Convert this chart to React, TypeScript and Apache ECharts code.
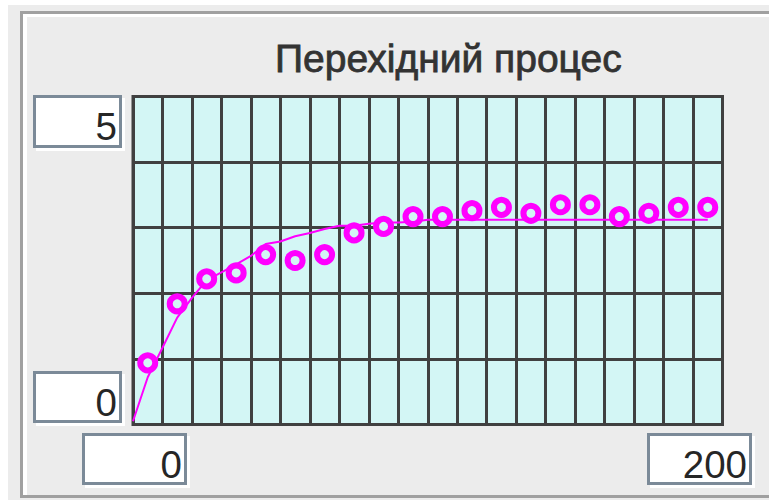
import React, { useEffect, useRef } from "react";
import * as echarts from "echarts";

// Axis ranges shown in the edit boxes
const xRange = [0, 200];
const yRange = [0, 5];
const xStep = 10;
const yStep = 1;

// Model curve (t, value)
const curveT = [0, 5, 10, 15, 20, 25, 30, 35, 40, 45, 50, 55, 60, 65, 70, 75, 80, 85, 90, 95, 100, 110, 120, 130, 140, 150, 160, 170, 180, 190, 195];
const curveV = [0.05, 0.72, 1.17, 1.63, 1.93, 2.2, 2.32, 2.44, 2.57, 2.75, 2.79, 2.87, 2.92, 2.98, 3.03, 3.03, 3.06, 3.08, 3.08, 3.09, 3.12, 3.12, 3.12, 3.12, 3.12, 3.12, 3.12, 3.12, 3.12, 3.12, 3.12];

// Measured samples (t, value)
const sampleT = [5, 15, 25, 35, 45, 55, 65, 75, 85, 95, 105, 115, 125, 135, 145, 155, 165, 175, 185, 195];
const sampleV = [0.94, 1.84, 2.22, 2.31, 2.59, 2.5, 2.59, 2.92, 3.02, 3.17, 3.17, 3.26, 3.31, 3.22, 3.35, 3.35, 3.17, 3.22, 3.31, 3.31];

const titleText = "Перехідний процес";

const FONT = '"Liberation Sans", Arial, sans-serif';
const PLOT_BG = "#d3f6f5";
const GRID_LINE = "#404040";
const MAGENTA = "#ff00ff";
const EDGE = "#7b8a98";

function editBox(x: number, y: number, w: number, h: number, label: string, tx: number, ty: number) {
  return [
    { type: "rect", shape: { x: x + 3, y: y + 3, width: w, height: h }, style: { fill: "#ffffff" }, silent: true },
    { type: "rect", shape: { x, y, width: w, height: h }, style: { fill: EDGE }, silent: true },
    { type: "rect", shape: { x: x + 3, y: y + 3, width: w - 6, height: h - 6 }, style: { fill: "#ffffff" }, silent: true },
    {
      type: "text",
      x: tx,
      y: ty,
      silent: true,
      style: { text: label, fill: "#262626", font: `38.5px ${FONT}`, align: "right", verticalAlign: "middle" },
    },
  ];
}

export default function App() {
  const ref = useRef<HTMLDivElement>(null);

  useEffect(() => {
    if (!ref.current) return;
    const chart = echarts.init(ref.current, undefined, { renderer: "svg" });

    const curve = curveT.map((t, i) => [t, curveV[i]]);
    const samples = sampleT.map((t, i) => [t, sampleV[i]]);

    chart.setOption({
      animation: false,
      backgroundColor: "#ececec",
      grid: {
        left: 133,
        top: 96.5,
        width: 589.5,
        height: 328,
        show: true,
        backgroundColor: PLOT_BG,
        borderColor: GRID_LINE,
        borderWidth: 3,
      },
      xAxis: {
        type: "value",
        min: xRange[0],
        max: xRange[1],
        interval: xStep,
        axisLine: { show: false },
        axisTick: { show: false },
        axisLabel: { show: false },
        splitLine: { show: true, lineStyle: { color: GRID_LINE, width: 3 } },
      },
      yAxis: {
        type: "value",
        min: yRange[0],
        max: yRange[1],
        interval: yStep,
        axisLine: { show: false },
        axisTick: { show: false },
        axisLabel: { show: false },
        splitLine: { show: true, lineStyle: { color: GRID_LINE, width: 3 } },
      },
      series: [
        {
          type: "line",
          data: curve,
          showSymbol: false,
          symbol: "none",
          lineStyle: { color: MAGENTA, width: 2 },
          z: 3,
        },
        {
          type: "scatter",
          data: samples,
          symbol: "circle",
          symbolSize: 15,
          itemStyle: { color: PLOT_BG, borderColor: MAGENTA, borderWidth: 6, opacity: 1 },
          z: 4,
        },
      ],
      graphic: [
        // page margin strips
        { type: "rect", shape: { x: 0, y: 0, width: 8, height: 500 }, style: { fill: "#ffffff" }, silent: true },
        { type: "rect", shape: { x: 0, y: 0, width: 769, height: 5 }, style: { fill: "#ffffff" }, silent: true },
        // etched panel frame
        { type: "rect", shape: { x: 20, y: 11, width: 3, height: 487 }, style: { fill: "#a0a0a0" }, silent: true },
        { type: "rect", shape: { x: 20, y: 11, width: 749, height: 3 }, style: { fill: "#a0a0a0" }, silent: true },
        { type: "rect", shape: { x: 20, y: 495, width: 749, height: 3 }, style: { fill: "#a0a0a0" }, silent: true },
        { type: "rect", shape: { x: 23, y: 14, width: 4, height: 481 }, style: { fill: "#ffffff" }, silent: true },
        { type: "rect", shape: { x: 23, y: 14, width: 746, height: 3 }, style: { fill: "#ffffff" }, silent: true },
        // title
        {
          type: "text",
          x: 275,
          y: 58,
          silent: true,
          style: {
            text: titleText,
            fill: "#333333",
            stroke: "#333333",
            lineWidth: 0.8,
            font: `39px ${FONT}`,
            align: "left",
            verticalAlign: "middle",
          },
        },
        // range edit boxes
        ...editBox(33, 95, 89, 53, String(yRange[1]), 117, 126),
        ...editBox(33, 371, 89, 52, String(yRange[0]), 117, 402),
        ...editBox(82, 433, 105, 52, String(xRange[0]), 182, 464),
        ...editBox(647, 433, 105, 52, String(xRange[1]), 747, 464),
      ],
    });

    return () => chart.dispose();
  }, []);

  return <div ref={ref} style={{ position: "absolute", left: 0, top: 0, width: 769, height: 500 }} />;
}
